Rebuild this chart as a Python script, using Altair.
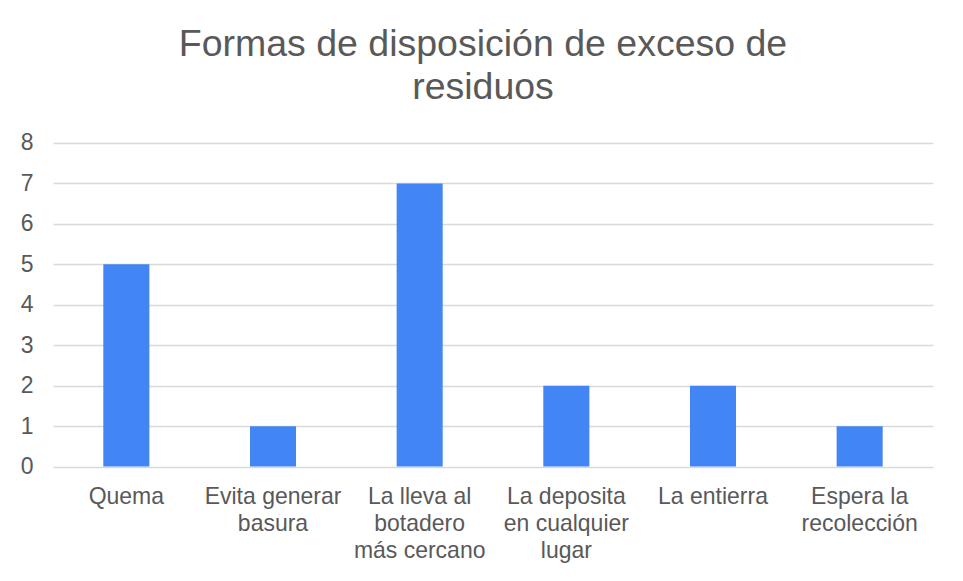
import altair as alt
import pandas as pd

categories = [
    "Quema",
    "Evita generar\nbasura",
    "La lleva al\nbotadero\nmás cercano",
    "La deposita\nen cualquier\nlugar",
    "La entierra",
    "Espera la\nrecolección",
]
values = [5, 1, 7, 2, 2, 1]
y_ticks = [0, 1, 2, 3, 4, 5, 6, 7, 8]
title_lines = ["Formas de disposición de exceso de", "residuos"]

df = pd.DataFrame({"forma": categories, "cantidad": values})

TEXT = "#595959"
FONT = "Liberation Sans"

chart = (
    alt.Chart(df)
    .mark_bar(color="#4285F4")
    .encode(
        x=alt.X(
            "forma:N",
            sort=categories,
            title=None,
            scale=alt.Scale(paddingInner=0.686, paddingOuter=0.343),
            axis=alt.Axis(
                labelAngle=0,
                labelExpr="split(datum.value, '\\n')",
                ticks=False,
                domain=False,
                labelPadding=19,
                labelLineHeight=27,
                labelFontSize=23,
                labelColor=TEXT,
                labelFont=FONT,
                labelLimit=0,
            ),
        ),
        y=alt.Y(
            "cantidad:Q",
            title=None,
            scale=alt.Scale(domain=[0, 8], nice=False),
            axis=alt.Axis(
                values=y_ticks,
                ticks=False,
                domain=False,
                labelPadding=20,
                labelFontSize=23,
                labelColor=TEXT,
                labelFont=FONT,
                gridColor="#D9D9D9",
                gridWidth=1.5,
            ),
        ),
    )
    .properties(
        width=880,
        height=323.6,
        autosize=alt.AutoSizeParams(type="none"),
        padding={"left": 45, "top": 135, "right": 20, "bottom": 100},
        title=alt.Title(
            title_lines,
            anchor="middle",
            frame="group",
            fontSize=37.5,
            fontWeight="normal",
            font=FONT,
            color=TEXT,
            lineHeight=43,
            offset=25,
            dx=-10,
        ),
    )
    .configure_view(stroke=None)
)

chart.save("out.html", embed_options={"renderer": "svg", "actions": False})
